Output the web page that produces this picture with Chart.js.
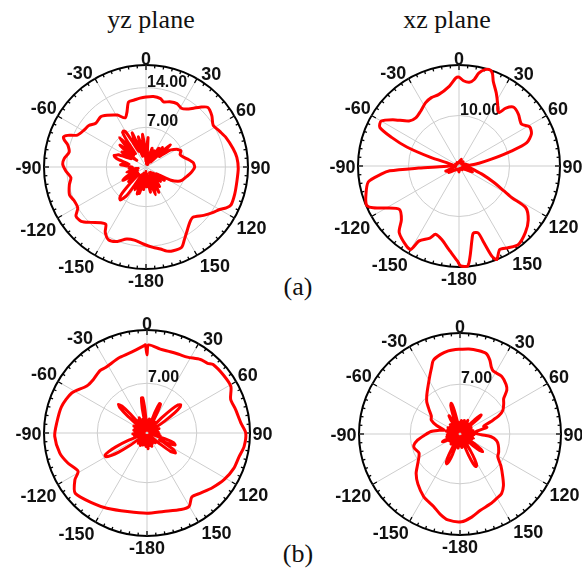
<!DOCTYPE html>
<html>
<head>
<meta charset="utf-8">
<script src="https://cdn.jsdelivr.net/npm/chart.js@4.4.1/dist/chart.umd.min.js"></script>
<style>
  html, body { margin: 0; padding: 0; background: #fff; }
  body { width: 582px; height: 569px; position: relative; overflow: hidden; }
  canvas { position: absolute; }
  .cap { position: absolute; font-family: "Liberation Serif", "Times New Roman", serif;
         font-size: 26px; line-height: 26px; color: #111; white-space: nowrap;
         transform: translateX(-50%); }
</style>
</head>
<body>
<div class="cap" style="left:151px; top:7px;">yz plane</div>
<div class="cap" style="left:447px; top:7px;">xz plane</div>
<div class="cap" style="left:298px; top:274px;">(a)</div>
<div class="cap" style="left:298px; top:541px;">(b)</div>

<script>
// Angle axis: one category per degree, 0 at top, clockwise
const degrees = Array.from({ length: 360 }, (_, i) => i);
const angleTickDegrees = [0, 30, 60, 90, 120, 150, 180, 210, 240, 270, 300, 330];
const angleTickLabels = ['0', '30', '60', '90', '120', '150', '-180', '-150', '-120', '-90', '-60', '-30'];

// (a) yz plane
const yzA_max = 18;
const yzA_rings = [7, 14];
const yzA_co = [[0,12.35],[6,12.5],[12,12.33],[15,11.9],[20,12.25],[26,12.45],[31,12.1],[35,12.48],[39,13.36],[42,14.2],[46,15.15],[52,14.74],[58,13.97],[64,14.43],[70,15.06],[78,15.7],[84,16.12],[91,16.28],[99,16.24],[107,16.37],[114,16.43],[117,15.9],[120,15.0],[124,14.32],[130,13.28],[137,12.13],[142,12.5],[147,13.35],[152,14.46],[156,15.5],[162,15.53],[166,15.3],[170,14.7],[175,14.24],[182,13.6],[189,13.07],[195,13.15],[201,14.07],[207,14.46],[212,13.57],[215,12.35],[219,12.65],[225,13.82],[230,14.92],[235,15.08],[239,14.05],[245,14.01],[250,14.37],[257,13.88],[262,13.38],[267,14.14],[272,14.71],[276,14.5],[281,13.81],[286,14.4],[288,15.1],[290,15.5],[292,14.9],[295,13.34],[301,12.72],[306,12.47],[311,11.75],[318,11.94],[323,11.42],[331,10.47],[337,9.42],[341,10.3],[345,11.89],[350,12.0],[355,12.2]];
const yzA_cross = [[0,1],[2,3.2],[4,5.2],[6,2],[8,0.6],[10,2.5],[12,1.2],[14,0.5],[16,2.4],[18,3.5],[20,1.2],[22,0.6],[24,2.2],[26,3.2],[28,1.4],[30,0.5],[32,2.5],[34,4],[36,1.2],[38,2.2],[40,4.5],[42,2.4],[44,1.2],[46,4.2],[48,5.8],[50,4],[52,3],[55,5.2],[60,6.3],[65,6.8],[70,6.4],[75,6.8],[80,7.6],[85,8.4],[90,8.6],[95,8.2],[100,7.7],[105,7.2],[110,6.8],[114,6.2],[118,5],[120,3.4],[122,2.2],[124,3.2],[126,4],[128,2.5],[130,1.6],[132,2.4],[135,3.6],[138,2],[140,1.2],[142,2.4],[145,4.2],[147,2.6],[149,1.2],[151,3],[153,5],[155,3.2],[157,1.6],[159,3.4],[161,5.2],[163,3.4],[165,1.6],[168,3],[170,4.5],[172,2.6],[174,1.2],[176,2.2],[178,3.5],[180,2],[182,0.8],[184,2.4],[186,4],[188,2.6],[190,1.2],[192,3],[194,4.8],[196,4],[198,5],[200,3],[202,1.2],[204,3],[206,4.5],[208,3],[210,1.6],[212,3.6],[214,6],[216,6.8],[218,7.4],[220,7.2],[222,6.5],[224,4],[226,1.8],[228,2.8],[230,4],[232,3],[235,1.8],[238,3.4],[240,4.7],[242,4.4],[245,3.5],[248,2.2],[250,1.6],[252,2.4],[255,3.5],[258,2.4],[260,1.4],[262,2.2],[265,3],[268,2.4],[270,2.5],[273,3.4],[275,4.5],[278,4],[280,3],[283,4],[285,5],[288,5.8],[290,6],[292,5.6],[294,5.3],[296,4],[298,3],[300,4],[302,5],[304,3.4],[306,2],[308,4],[310,6],[312,4.4],[314,3],[316,5],[318,7],[320,5],[322,3],[324,5.6],[326,7.4],[328,7.5],[330,7.2],[332,5],[334,3],[336,5],[338,6.5],[340,4],[342,2],[344,3.8],[346,5.5],[348,3.6],[350,2],[352,4],[354,5.8],[356,3.8],[358,1.6]];

// (a) xz plane
const xzA_max = 20;
const xzA_rings = [10];
const xzA_co = [[0,17.6],[3,16.9],[7,16.7],[10,17.4],[12,18.8],[15,19.75],[18,20.0],[20,19.4],[22,18.1],[27,16.25],[32,14.45],[35,13.4],[37,13.3],[39,14.75],[43,15.9],[49,15.6],[56,14.9],[61,16.0],[66,15.7],[71,14.2],[74,10.9],[78,6.7],[82,4.0],[86,2.0],[90,1.2],[95,1.5],[100,2.2],[105,3.2],[110,5],[115,7.5],[119,10.2],[121,12.3],[122,15.6],[128,17.4],[135,18.6],[143,19.5],[149,18.9],[154,18.4],[158,19.97],[160,19.0],[162,16.0],[164,13.8],[168,13.6],[170,14.8],[173,18],[175,19.87],[179,19.8],[181,18.8],[187,16.65],[193,15.0],[199,14.3],[202,15.4],[208,16.8],[210,19.06],[213,19.0],[222,17.7],[227,15.6],[234,14.6],[240,16.6],[244,18.9],[247,19.86],[252,19.4],[260,18.25],[264,15.5],[266,13.75],[267,8],[268,3],[272,1.5],[276,1.2],[280,1.3],[284,2],[287,6],[290,11],[293,14.5],[296,17.45],[300,17.8],[305,16.0],[312,13.3],[318,12.8],[325,13.25],[332,14.15],[338,14.6],[344,14.7],[353,15.9],[358,17.45]];
const xzA_cross = [[0,0.8],[20,1.4],[30,0.6],[45,1.2],[60,0.6],[75,1.4],[88,2.0],[95,0.8],[100,1.5],[104,1.8],[108,2.4],[111,1.6],[114,2.9],[118,1.5],[125,0.6],[140,1.0],[160,0.5],[180,1.2],[200,0.6],[220,1.0],[232,1.6],[238,2.4],[242,1.4],[246,2.6],[249,2.8],[252,1.8],[255,1.5],[262,0.7],[270,1.0],[285,0.6],[300,0.8],[315,0.5],[330,0.8],[345,0.6]];

// (b) yz plane
const yzB_max = 14.5;
const yzB_rings = [7];
const yzB_co = [[0,11.0],[1,12.4],[9,11.95],[16,11.9],[22,11.95],[28,12.1],[36,12.8],[41,13.0],[44,13.4],[53,13.5],[61,13.5],[68,12.7],[75,12.9],[84,13.3],[90,13.9],[98,13.8],[104,13.4],[112,13.2],[121,12.7],[130,12.0],[138,11.36],[145,11.0],[150,11.9],[156,11.8],[168,11.3],[180,11.3],[194,11.4],[208,12.0],[217,12.45],[230,13.2],[237,12.1],[241,11.1],[249,11.9],[257,12.6],[268,13.0],[276,12.8],[287,12.6],[298,12.0],[308,10.76],[315,10.67],[323,11.0],[328,10.9],[340,11.3],[351,11.7],[358,12.3],[359,12.4]];
const yzB_cross = [[0,0.4],[2,1.8],[4,0.5],[6,1.5],[8,0.4],[10,2.0],[12,0.5],[14,1.6],[16,0.4],[19,1],[21,3.2],[23,4.5],[25,4.5],[27,3],[29,1],[31,0.4],[33,1.7],[35,0.5],[37,1.9],[39,0.4],[42,1],[44,3],[46,4.8],[48,5.9],[50,6.2],[52,5.9],[54,4.8],[56,3],[58,1],[60,0.4],[62,1.6],[64,0.5],[66,1.4],[68,0.4],[70,1.8],[72,0.5],[74,1.3],[76,0.4],[78,1.5],[80,0.5],[82,1.2],[84,0.4],[86,1.6],[88,0.5],[90,1.4],[92,0.4],[94,1.7],[96,0.5],[98,1.5],[100,0.4],[102,1.9],[104,0.5],[106,1],[108,2.8],[110,4],[113,4.3],[116,3.5],[118,2],[120,3],[122,4.4],[125,4.9],[128,4.2],[130,2.5],[132,1],[134,0.4],[136,1.5],[138,0.5],[140,1.8],[142,0.4],[144,1.3],[146,0.5],[148,1.6],[150,0.4],[152,1.2],[154,0.5],[156,1.7],[158,0.4],[160,2.0],[162,0.5],[164,1.4],[166,0.4],[168,1.8],[170,0.5],[172,1.5],[174,0.4],[176,2.2],[178,0.5],[180,1.6],[182,0.4],[184,1.9],[186,0.5],[188,1.4],[190,0.4],[192,1.7],[194,0.5],[196,1.3],[198,0.4],[200,1.8],[202,0.5],[204,1.5],[206,0.4],[208,2.0],[210,0.5],[212,1.6],[214,0.4],[216,1.4],[218,0.5],[220,1.9],[222,0.4],[224,1.5],[226,0.5],[228,1.7],[230,0.4],[232,1],[234,3],[236,4.8],[238,6.0],[240,6.7],[242,6.7],[244,6],[246,4.8],[248,3],[250,1],[252,0.4],[254,1.6],[256,0.5],[258,1.8],[260,0.4],[262,1.4],[264,0.5],[266,2.0],[268,0.4],[270,1.5],[272,0.5],[274,1.7],[276,0.4],[278,1.3],[280,0.5],[282,1.9],[284,0.4],[286,1.5],[288,0.5],[290,1.8],[292,0.4],[294,1.6],[296,0.5],[298,2.1],[300,0.4],[302,1.5],[304,0.5],[306,1.8],[309,1],[311,3.5],[313,5.2],[315,5.7],[317,5.2],[319,3.5],[321,1.2],[323,0.5],[325,1.6],[327,0.4],[329,2.2],[331,0.5],[333,2.4],[335,0.4],[337,1.8],[339,0.5],[341,2.0],[343,0.4],[345,1.4],[347,1],[349,3.5],[351,5],[353,5],[355,3.2],[357,1]];

// (b) xz plane
const xzB_max = 14.2;
const xzB_rings = [7];
const xzB_co = [[0,11.9],[6,12.0],[12,12.0],[18,11.9],[22,11.2],[25,10.4],[28,10.0],[36,10.0],[43,9.5],[47,9.0],[51,7.9],[55,7.5],[61,6.9],[65,6.0],[68,4.7],[72,3.5],[76,3.9],[80,2.5],[86,2.0],[92,3.0],[95,4.4],[100,5.2],[106,5.6],[115,6.0],[121,6.2],[128,7.3],[135,8.5],[140,9.5],[145,10.2],[150,10.4],[156,10.7],[165,11.1],[172,11.8],[179,12.35],[188,12.2],[194,11.6],[200,10.85],[205,10.5],[210,10.2],[220,9.2],[228,8.3],[235,7.25],[245,6.35],[252,6.7],[256,6.7],[262,6.0],[268,5.0],[275,4.1],[280,3.0],[284,2.3],[290,3.5],[296,4.5],[302,4.75],[308,5.5],[314,6.5],[318,7.0],[322,7.5],[327,8.2],[333,9.3],[337,10.2],[340,11.0],[346,11.5],[352,11.8],[357,11.9]];
const xzB_cross = [[0,0.4],[2,1.6],[4,0.5],[6,1.9],[8,0.4],[10,1.4],[12,0.5],[14,1.8],[16,0.4],[18,2.0],[20,0.5],[22,1.5],[24,0.4],[26,1.7],[28,0.5],[30,2.2],[32,0.4],[34,1.5],[36,0.5],[38,1.8],[40,0.4],[42,1.4],[44,1],[46,3],[48,4],[50,3.5],[52,1],[54,0.4],[56,1.6],[58,0.5],[60,1.8],[62,0.4],[64,1.4],[66,0.5],[68,1.7],[70,0.4],[72,1.5],[74,0.5],[76,1.9],[78,0.4],[80,1.4],[82,0.5],[84,1.8],[86,0.4],[88,1.6],[90,0.5],[92,2.0],[94,0.4],[96,1.5],[98,0.5],[100,1.8],[102,0.4],[104,1.6],[106,0.5],[108,2.0],[110,0.5],[112,1.8],[114,0.4],[116,1.5],[118,0.5],[120,1.6],[122,1],[124,2.5],[126,3.6],[128,4.05],[130,3.6],[132,2.5],[134,1],[136,0.5],[138,1.7],[140,0.4],[142,1.5],[144,0.5],[146,1],[148,2.8],[150,4.2],[152,5],[154,5.1],[156,4.6],[158,3.2],[160,1.5],[162,0.5],[164,1.8],[166,0.4],[168,1.5],[170,0.5],[172,1.9],[174,0.4],[176,1.4],[178,0.5],[180,1.7],[182,0.4],[184,1.5],[186,0.5],[188,2.0],[190,0.4],[192,1.6],[194,0.5],[196,1.4],[198,1],[200,3],[202,4.2],[204,4.6],[206,4.4],[208,3.4],[210,1.5],[212,0.5],[214,1.8],[216,0.4],[218,1.5],[220,0.5],[222,1.9],[224,0.4],[226,1.4],[228,0.5],[230,1.7],[232,0.4],[234,1.5],[236,0.5],[238,1.8],[240,0.4],[242,1],[244,2.2],[246,2.7],[248,2.2],[250,1],[252,0.4],[254,1.6],[256,0.5],[258,1.9],[260,0.4],[262,1.5],[264,0.5],[266,1.8],[268,0.4],[270,1.4],[272,0.5],[274,1.7],[276,0.4],[278,1.5],[280,0.5],[282,2.0],[284,0.4],[286,1.6],[288,0.5],[290,1.8],[292,0.4],[294,1.4],[296,0.5],[298,1.9],[300,0.4],[302,1.5],[304,0.5],[306,1.7],[308,0.4],[310,1.6],[312,0.5],[314,1.9],[316,0.4],[318,1.5],[320,0.5],[322,1.8],[325,1],[327,2.5],[329,3],[331,2],[333,0.8],[335,0.5],[336,1.4],[338,1],[340,3],[342,4.2],[344,4.5],[346,3.8],[348,2],[350,0.5],[352,1.7],[354,0.4],[356,1.5],[358,0.5]];

// Spread [angle, value] pairs over the per-degree categories
function toSeries(pairs) {
  const arr = new Array(degrees.length).fill(null);
  pairs.forEach(([a, v]) => { arr[((Math.round(a) % 360) + 360) % 360] = v; });
  return arr;
}

const RED = '#ff0000';
const GRID = '#cdcdcd';
const LABEL_FONT = 'bold 18px "Liberation Sans", Arial, sans-serif';
const RING_FONT = 'bold 16px "Liberation Sans", Arial, sans-serif';

// Labels at +/-30 deg from the vertical sit a little wider than their spoke
function labelAngle(d) {
  const off = { 30: 5, 150: -5, 210: 5, 330: -5 };
  return d + (off[d] || 0);
}

// Outer ticks, angle labels and ring labels drawn from the radial scale
const polarDecor = {
  id: 'polarDecor',
  beforeDatasetsDraw(chart, args, opts) {
    const s = chart.scales.r;
    const ctx = chart.ctx;
    const R = s.getDistanceFromCenterForValue(s.max);
    ctx.save();
    ctx.strokeStyle = '#000';
    ctx.lineWidth = 1.3;
    for (let d = 0; d < 360; d += 5) {
      const len = d % 30 === 0 ? 5 : 3;
      const p1 = s.getPointPosition(d, R);
      const p2 = s.getPointPosition(d, R - len);
      ctx.beginPath();
      ctx.moveTo(p1.x, p1.y);
      ctx.lineTo(p2.x, p2.y);
      ctx.stroke();
    }
    ctx.fillStyle = '#111';
    ctx.font = LABEL_FONT;
    ctx.textAlign = 'center';
    ctx.textBaseline = 'alphabetic';
    const capH = 13;
    angleTickDegrees.forEach((d, i) => {
      const txt = angleTickLabels[i];
      const w = ctx.measureText(txt).width;
      const a = labelAngle(d);
      const th = a * Math.PI / 180;
      const sup = Math.abs(Math.sin(th)) * w / 2 + Math.abs(Math.cos(th)) * capH / 2;
      const gap = 2.5 - 2 * Math.cos(th);
      const rr = R + gap + sup;
      const x = s.xCenter + rr * Math.sin(th);
      const y = s.yCenter - rr * Math.cos(th);
      ctx.fillText(txt, x, y + capH / 2);
    });
    ctx.font = RING_FONT;
    ctx.textAlign = 'left';
    opts.rings.forEach(v => {
      const p = s.getPointPosition(0, s.getDistanceFromCenterForValue(v));
      ctx.fillText(v.toFixed(2), p.x + 1, p.y - 1);
    });
    ctx.restore();
  }
};

function makePolar(box, cx, cy, R, max, rings, coPairs, crossPairs) {
  const [left, top, width, height] = box;
  const cv = document.createElement('canvas');
  cv.width = width; cv.height = height;
  cv.style.left = left + 'px'; cv.style.top = top + 'px';
  document.body.appendChild(cv);
  const padding = {
    left: cx - R - left,
    right: left + width - (cx + R),
    top: cy - R - top,
    bottom: top + height - (cy + R)
  };
  const lineStyle = { borderColor: RED, backgroundColor: RED, borderWidth: 3, pointRadius: 0,
                      pointHoverRadius: 0, fill: false, spanGaps: true,
                      borderJoinStyle: 'round', borderCapStyle: 'round' };
  return new Chart(cv, {
    type: 'radar',
    data: {
      labels: degrees,
      datasets: [
        Object.assign({ data: toSeries(coPairs), tension: 0.25 }, lineStyle),
        Object.assign({ data: toSeries(crossPairs), tension: 0.1 }, lineStyle)
      ]
    },
    options: {
      responsive: false,
      animation: false,
      devicePixelRatio: 1,
      layout: { padding },
      plugins: { legend: { display: false }, tooltip: { enabled: false }, polarDecor: { rings } },
      scales: {
        r: {
          min: 0, max,
          startAngle: 0,
          ticks: { display: false },
          pointLabels: { display: false },
          afterBuildTicks: (scale) => { scale.ticks = [0, ...rings, max].map(v => ({ value: v })); },
          grid: {
            circular: true,
            color: (c) => (c.tick && c.tick.value === max) ? '#000' : GRID,
            lineWidth: (c) => (c.tick && c.tick.value === max) ? 2 : 1
          },
          angleLines: {
            color: GRID,
            lineWidth: (c) => (c.index % 30 === 0 ? 1 : 0)
          }
        }
      }
    },
    plugins: [polarDecor]
  });
}

makePolar([0, 40, 291, 252], 146, 167, 102, yzA_max, yzA_rings, yzA_co, yzA_cross);
makePolar([291, 40, 291, 252], 459, 166, 101, xzA_max, xzA_rings, xzA_co, xzA_cross);
makePolar([0, 300, 291, 269], 147, 433, 103, yzB_max, yzB_rings, yzB_co, yzB_cross);
makePolar([291, 300, 291, 269], 460, 434, 101, xzB_max, xzB_rings, xzB_co, xzB_cross);
</script>
</body>
</html>
